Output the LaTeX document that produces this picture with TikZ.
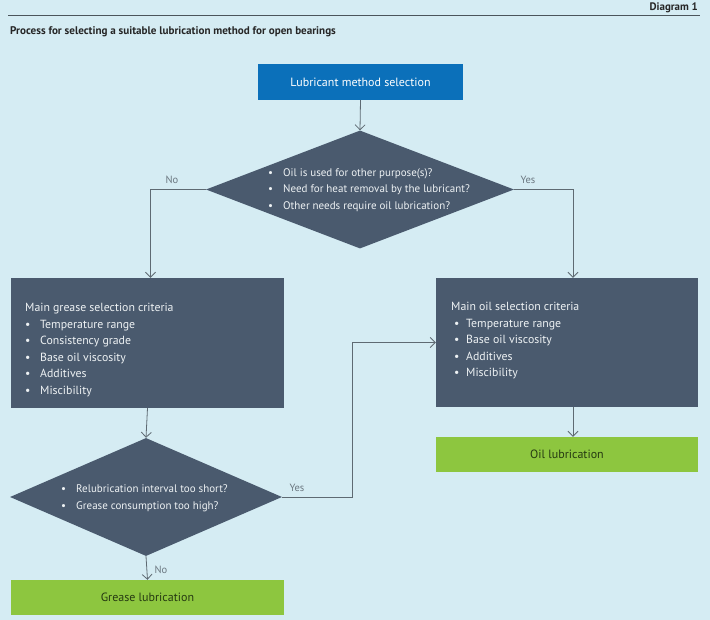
\documentclass[tikz,border=0pt]{standalone}
\usepackage{fontspec}
\setmainfont{PT Sans}
\usetikzlibrary{shapes.geometric,arrows.meta}
\definecolor{bgc}{HTML}{D5ECF3}
\definecolor{blueb}{HTML}{0B70BA}
\definecolor{darkb}{HTML}{4A5A6E}
\definecolor{greenb}{HTML}{8DC63F}
\definecolor{greentxt}{HTML}{263A12}
\definecolor{linec}{HTML}{5E6A72}
\definecolor{labc}{HTML}{6B7780}
\definecolor{wtxt}{HTML}{EEF2F4}
\newcommand{\bl}[1]{\makebox[15pt][l]{\textbullet}#1}
\newcommand{\blo}[1]{\makebox[12pt][l]{\textbullet}#1}
\tikzset{
  box/.style={draw=none, fill=darkb, rectangle, inner sep=0pt},
  bluebox/.style={fill=blueb, rectangle, inner sep=0pt, text=white, font=\fontsize{12}{14}\selectfont},
  greenbox/.style={fill=greenb, rectangle, inner sep=0pt, text=greentxt, font=\fontsize{12}{14}\selectfont},
  dia/.style={diamond, fill=darkb, inner sep=0pt, aspect=1},
  txt/.style={text=wtxt, align=left, anchor=north west, inner sep=0pt, font=\fontsize{11}{16.5}\selectfont},
  btxt/.style={text=wtxt, align=left, anchor=north west, inner sep=0pt, font=\fontsize{11.8}{16.5}\selectfont},
  lab/.style={text=labc, inner sep=0pt, font=\fontsize{10.5}{12}\selectfont},
  conn/.style={draw=linec, line width=0.8pt, -{Straight Barb[length=5pt,width=10pt]}},
  plain/.style={draw=linec, line width=0.8pt}
}
\begin{document}
\begin{tikzpicture}[x=1pt,y=-1pt]
\path[fill=bgc] (0,0) rectangle (710,620);
\useasboundingbox (0,0) rectangle (710,620);
% header
\coordinate (hl) at (8,15);
\coordinate (hr) at (700,15);
\draw[draw=linec!80!black, line width=0.8pt] (hl) -- (hr);
\node[anchor=base east, inner sep=0pt, font=\fontsize{10.9}{12}\selectfont\bfseries, text=black!85] (diag) at (698,11) {Diagram 1};
\node[anchor=base west, inner sep=0pt, font=\fontsize{11.1}{12}\selectfont\bfseries, text=black!85] (title) at (10,35) {Process for selecting a suitable lubrication method for open bearings};
% nodes
\node[bluebox, minimum width=205pt, minimum height=36pt] (start) at (360.5,82) {Lubricant method selection};
\node[dia, minimum width=308pt, minimum height=118pt] (d1) at (360,189.5) {};
\node[txt, anchor=west] (d1t) at (268,190) {\bl{Oil is used for other purpose(s)?}\\\bl{Need for heat removal by the lubricant?}\\\bl{Other needs require oil lubrication?}};
\node[box, minimum width=273pt, minimum height=130pt] (grease) at (147.5,343) {};
\node[btxt] (greaset) at (25,303) {Main grease selection criteria\\\bl{Temperature range}\\\bl{Consistency grade}\\\bl{Base oil viscosity}\\\bl{Additives}\\\bl{Miscibility}};
\node[box, minimum width=262pt, minimum height=129pt] (oil) at (567,342.5) {};
\node[btxt] (oilt) at (451,302) {Main oil selection criteria\\\hspace{3pt}\blo{Temperature range}\\\hspace{3pt}\blo{Base oil viscosity}\\\hspace{3pt}\blo{Additives}\\\hspace{3pt}\blo{Miscibility}};
\node[greenbox, minimum width=262pt, minimum height=35pt] (oillub) at (567,454.5) {Oil lubrication};
\node[dia, minimum width=272pt, minimum height=118pt] (d2) at (146,497) {};
\node[txt, anchor=west] (d2t) at (61,498) {\bl{Relubrication interval too short?}\\\bl{Grease consumption too high?}};
\node[greenbox, minimum width=273pt, minimum height=35pt] (greaselub) at (147.5,597.5) {Grease lubrication};
% connectors
\draw[conn] (start.south) -- (d1.north);
\draw[conn] (d1.west) -| ([xshift=3pt]grease.north);
\draw[conn] (d1.east) -| ([xshift=6pt]oil.north);
\draw[conn] ([xshift=6pt]oil.south) -- ([xshift=6pt]oillub.north);
\draw[conn] (grease.south) -- (d2.north);
\coordinate (j) at (352,497);
\draw[conn] (d2.east) -- (j) |- (oil.west);
\draw[conn] (d2.south) -- (greaselub.north);
% labels
\node[lab] (lno1) at (172,180) {No};
\node[lab] (lyes1) at (528,180) {Yes};
\node[lab] (lyes2) at (297,488) {Yes};
\node[lab] (lno2) at (161,570) {No};
\end{tikzpicture}
\end{document}
